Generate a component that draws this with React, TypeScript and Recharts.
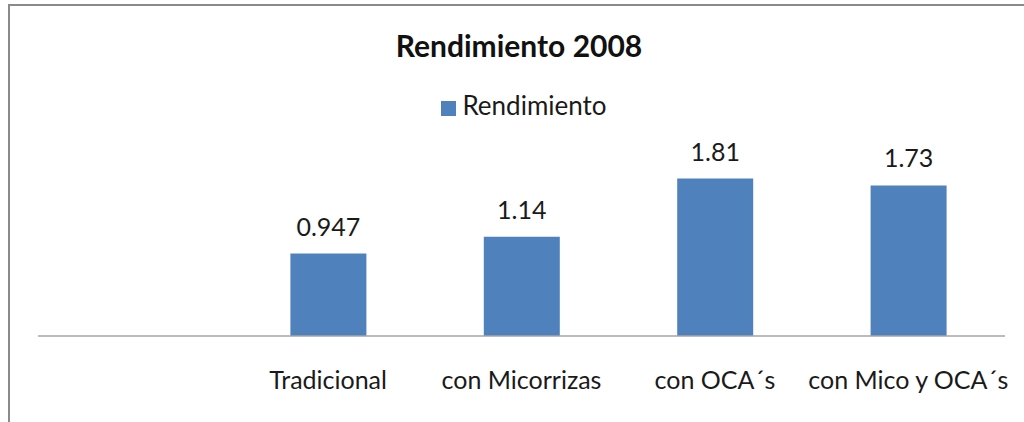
import React from "react";
import { BarChart, Bar, XAxis, YAxis, Legend, LabelList } from "recharts";

const categories: string[] = ["", "Tradicional", "con Micorrizas", "con OCA´s", "con Mico y OCA´s"];
const rendimiento: (number | null)[] = [null, 0.947, 1.14, 1.81, 1.73];
const seriesName = "Rendimiento";
const chartTitle = "Rendimiento 2008";

const data = categories.map((c, i) => ({ name: c, value: rendimiento[i] }));

const FONT = "Lato, 'Open Sans', sans-serif";

export default function App() {
  return (
    <div
      style={{
        position: "absolute",
        left: 0,
        top: 0,
        width: 1024,
        height: 422,
        overflow: "hidden",
        background: "#ffffff",
        fontFamily: FONT,
      }}
    >
      <div
        style={{
          position: "absolute",
          left: 8,
          top: 4,
          width: 1100,
          height: 500,
          borderTop: "2px solid #8a8a8a",
          borderLeft: "2px solid #8a8a8a",
          boxSizing: "border-box",
        }}
      />
      <svg style={{ position: "absolute", left: 0, top: 0 }} width={1024} height={80}>
        <text x={519} y={57} textAnchor="middle" fontFamily={FONT} fontWeight="bold" fontSize={30} fill="#111">
          {chartTitle}
        </text>
      </svg>
      <div style={{ position: "absolute", left: 0, top: 0 }}>
        <BarChart
          width={1024}
          height={422}
          data={data}
          margin={{ top: 162, right: 19, left: 38, bottom: 0 }}
        >
          <XAxis
            dataKey="name"
            height={86}
            tickLine={false}
            tickSize={0}
            tickMargin={35}
            axisLine={{ stroke: "#a6a6a6", strokeWidth: 1.5 }}
            tick={{ fill: "#1a1a1a", fontSize: 25, fontFamily: FONT }}
            interval={0}
          />
          <YAxis hide domain={[0, 2]} />
          <Legend
            layout="horizontal"
            verticalAlign="middle"
            align="center"
            iconType="square"
            iconSize={15}
            wrapperStyle={{ top: 89, left: 17, width: 1024, fontSize: 26, fontFamily: FONT }}
            formatter={(v: string) => <span style={{ color: "#1a1a1a", marginLeft: 2 }}>{v}</span>}
          />
          <Bar dataKey="value" name={seriesName} fill="#4f81bd" barSize={76} isAnimationActive={false}>
            <LabelList
              dataKey="value"
              position="top"
              offset={18}
              fill="#1a1a1a"
              fontSize={25}
              fontFamily={FONT}
            />
          </Bar>
        </BarChart>
      </div>
    </div>
  );
}
